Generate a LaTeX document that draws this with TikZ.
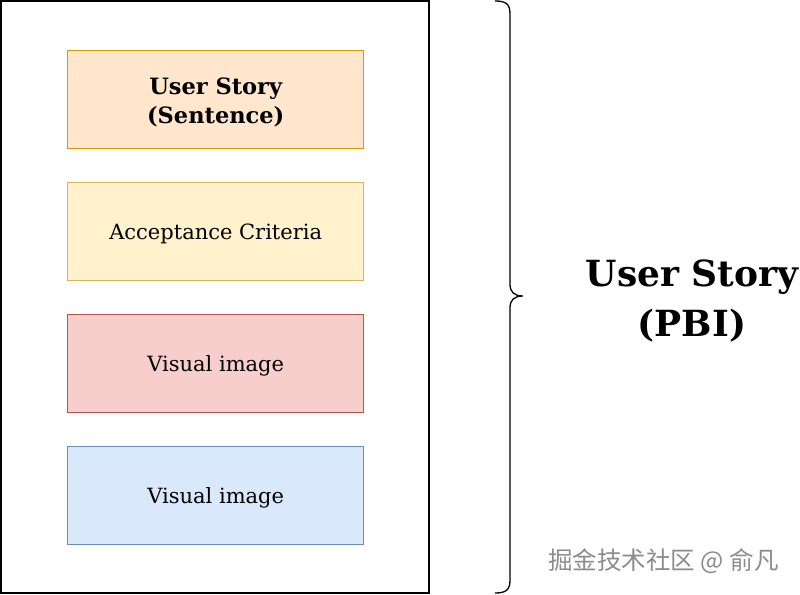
\documentclass[tikz,border=0pt]{standalone}
\usepackage{fontspec}
\setmainfont{DejaVu Serif}
\newfontfamily\cjk{Noto Sans CJK SC}
\definecolor{orfill}{HTML}{FFE6CC}\definecolor{ordraw}{HTML}{D79B00}
\definecolor{yefill}{HTML}{FFF2CC}\definecolor{yedraw}{HTML}{D6B656}
\definecolor{refill}{HTML}{F8CECC}\definecolor{redraw}{HTML}{B85450}
\definecolor{blfill}{HTML}{DAE8FC}\definecolor{bldraw}{HTML}{6C8EBF}
\tikzset{
  card/.style={rectangle, minimum width=296pt, minimum height=98pt, line width=1.4pt, align=center, anchor=north west, inner sep=0pt, text depth=0pt, font=\fontsize{21}{29}\selectfont},
}
\begin{document}
\begin{tikzpicture}[x=1pt,y=-1pt]
\useasboundingbox (0,0) rectangle (800,594);
\fill[white] (0,0) rectangle (800,594);
\draw[line width=1.3pt] (1,1) rectangle (429,593);
\node[card, fill=orfill, draw=ordraw] (us) at (67,50) {};
\node[card, fill=yefill, draw=yedraw] (ac) at (67,182) {Acceptance Criteria};
\node[card, fill=refill, draw=redraw] (v1) at (67,314) {Visual image};
\node[card, fill=blfill, draw=bldraw] (v2) at (67,446) {Visual image};
\node[font=\fontsize{22.5}{29}\selectfont\bfseries, align=center] (ust) at ([yshift=-2.5pt]us.center) {User Story\\(Sentence)};
\draw[line width=1.3pt] (495,1) .. controls (506,1) and (510,4) .. (510,14) -- (510,284) .. controls (510,292) and (514,296) .. (523,296)
  .. controls (514,296) and (510,300) .. (510,308) -- (510,580) .. controls (510,590) and (506,593) .. (495,593);
\node[font=\fontsize{36}{50}\selectfont\bfseries, align=center] (pbi) at (692,301) {User Story\\(PBI)};
\node[font=\cjk\fontsize{24.5}{24.5}\selectfont, text=white] (wm0) at (664.8,562.8) {掘金技术社区 @ 俞凡};
\node[font=\cjk\fontsize{24.5}{24.5}\selectfont, text=black!45] (wm) at (663.5,561.5) {掘金技术社区 @ 俞凡};
\end{tikzpicture}
\end{document}
